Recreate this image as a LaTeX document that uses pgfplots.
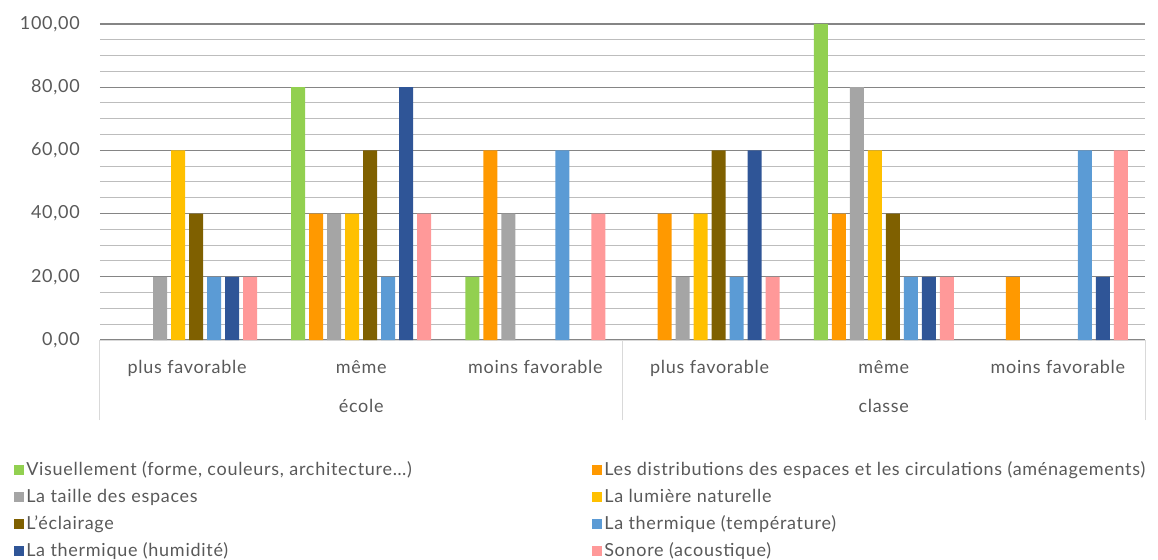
\documentclass[border=0pt]{standalone}
\usepackage{pgfplots}
\pgfplotsset{compat=1.18}
\usepackage{fontspec}
\setmainfont[LetterSpace=4]{Lato}
\definecolor{cGreen}{HTML}{92D050}
\definecolor{cOrange}{HTML}{FF9900}
\definecolor{cGray}{HTML}{A5A5A5}
\definecolor{cGold}{HTML}{FFC000}
\definecolor{cBrown}{HTML}{7F6000}
\definecolor{cBlue}{HTML}{5B9BD5}
\definecolor{cNavy}{HTML}{2F5597}
\definecolor{cPink}{HTML}{FF9999}
\definecolor{txt}{HTML}{595959}
\definecolor{majg}{HTML}{858585}
\definecolor{ming}{HTML}{BDBDBD}
\definecolor{axg}{HTML}{D9D9D9}
\newcommand{\fs}{\fontsize{13.5}{16}\selectfont}
\begin{document}
\begin{tikzpicture}
\useasboundingbox (-75pt,-165pt) rectangle (793.5pt,255pt);
\begin{axis}[
  at={(0pt,0pt)}, anchor=south west,
  scale only axis, width=783.75pt, height=237pt,
  xmin=-0.5, xmax=5.5, ymin=0, ymax=100,
  ybar=3pt, bar width=10.5pt,
  axis x line*=bottom, axis y line*=left,
  y axis line style={draw=none},
  x axis line style={draw=axg, line width=0.75pt},
  ytick={0,20,40,60,80,100}, minor y tick num=3,
  ymajorgrids, yminorgrids,
  major grid style={draw=majg, line width=1pt},
  minor grid style={draw=ming, line width=0.75pt},
  major tick length=0pt, minor tick length=0pt,
  xtick={0,1,2,3,4,5},
  xticklabels={plus favorable, même, moins favorable, plus favorable, même, moins favorable},
  xticklabel style={anchor=base, yshift=-24.75pt, font=\fs, text=txt},
  yticklabel style={anchor=east, inner sep=0pt, xshift=-15pt, font=\fs, text=txt},
  /pgf/number format/.cd, fixed, fixed zerofill, precision=2, use comma, assume math mode=true,
  /pgfplots/.cd,
  extra x ticks={-0.5,2.5,5.5}, extra x tick labels={},
  extra x tick style={tick align=outside, major tick length=60pt, major tick style={draw=axg, line width=0.75pt}},
  clip=false,
  every axis plot/.append style={draw=none, legend image code/.code={\fill[##1] (0pt,-3.75pt) rectangle (7.5pt,3.75pt);}},
  legend columns=2,
  legend cell align=left,
  legend style={draw=none, fill=none, font=\fs, text=txt,
    at={(-0.0861,-0.3678)}, anchor=north west,
    row sep=4.5pt, nodes={inner xsep=1.5pt},
    /tikz/every even column/.append style={column sep=0pt}},
]
\addplot[fill=cGreen] coordinates {(1,80) (2,20) (4,100)};
\addlegendentry{\makebox[423pt][l]{Visuellement (forme, couleurs, architecture…)}}
\addplot[fill=cOrange] coordinates {(1,40) (2,60) (3,40) (4,40) (5,20)};
\addlegendentry{Les distributions des espaces et les circulations (aménagements)}
\addplot[fill=cGray] coordinates {(0,20) (1,40) (2,40) (3,20) (4,80)};
\addlegendentry{\makebox[423pt][l]{La taille des espaces}}
\addplot[fill=cGold] coordinates {(0,60) (1,40) (3,40) (4,60)};
\addlegendentry{La lumière naturelle}
\addplot[fill=cBrown] coordinates {(0,40) (1,60) (3,60) (4,40)};
\addlegendentry{\makebox[423pt][l]{L’éclairage}}
\addplot[fill=cBlue] coordinates {(0,20) (1,20) (2,60) (3,20) (4,20) (5,60)};
\addlegendentry{La thermique (température)}
\addplot[fill=cNavy] coordinates {(0,20) (1,80) (3,60) (4,20) (5,20)};
\addlegendentry{\makebox[423pt][l]{La thermique (humidité)}}
\addplot[fill=cPink] coordinates {(0,20) (1,40) (2,40) (3,20) (4,20) (5,60)};
\addlegendentry{Sonore (acoustique)}
\node[anchor=base, yshift=-54pt, font=\fs, text=txt] at (axis cs:1,0) {école};
\node[anchor=base, yshift=-54pt, font=\fs, text=txt] at (axis cs:4,0) {classe};
\end{axis}
\end{tikzpicture}
\end{document}
